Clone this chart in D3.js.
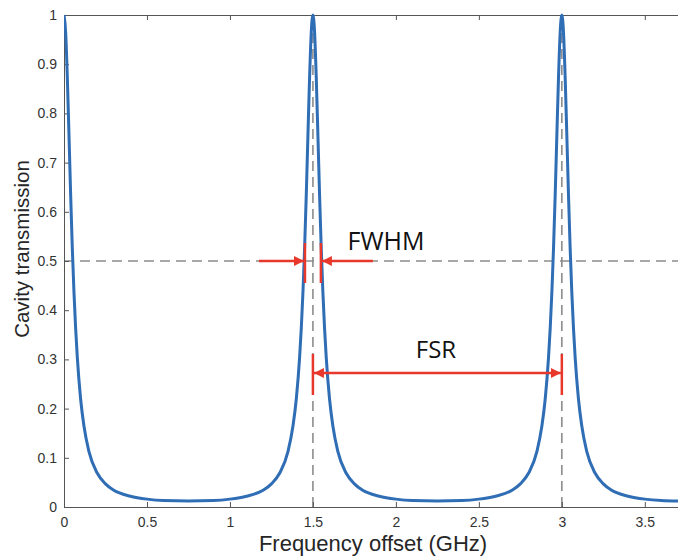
<!DOCTYPE html>
<html>
<head>
<meta charset="utf-8">
<script src="https://cdn.jsdelivr.net/npm/d3@7"></script>
<style>
  body { margin: 0; background: #fff; }
  svg { display: block; }
  .axis path, .axis line { stroke: #555; }
  .axis text { fill: #333; font-family: "Liberation Sans", Arial, sans-serif; font-size: 14px; }
</style>
</head>
<body>
<svg id="chart" width="678" height="558"></svg>
<script>
// cavity transmission (GHz, transmission)
var freq = [0, 0.01, 0.02, 0.03, 0.04, 0.05, 0.06, 0.07, 0.08, 0.10, 0.12, 0.15, 0.20, 0.25, 0.30, 0.40, 0.50, 0.60, 0.75,
            0.90, 1.00, 1.10, 1.20, 1.25, 1.30, 1.35, 1.38, 1.40, 1.42, 1.43, 1.44, 1.45, 1.46, 1.47, 1.48, 1.49,
            1.50, 1.51, 1.52, 1.53, 1.54, 1.55, 1.56, 1.57, 1.58, 1.60, 1.62, 1.65, 1.70, 1.75, 1.80, 1.90, 2.00, 2.10, 2.25,
            2.40, 2.50, 2.60, 2.70, 2.75, 2.80, 2.85, 2.88, 2.90, 2.92, 2.93, 2.94, 2.95, 2.96, 2.97, 2.98, 2.99,
            3.00, 3.01, 3.02, 3.03, 3.04, 3.05, 3.06, 3.07, 3.08, 3.10, 3.12, 3.15, 3.20, 3.25, 3.30, 3.40, 3.50, 3.60, 3.70];
var trans = [1.000, 0.965, 0.874, 0.756, 0.635, 0.527, 0.437, 0.364, 0.305, 0.220, 0.165, 0.113, 0.069, 0.047, 0.034, 0.022, 0.016, 0.013, 0.012,
             0.013, 0.016, 0.022, 0.034, 0.047, 0.069, 0.113, 0.165, 0.220, 0.305, 0.364, 0.437, 0.527, 0.635, 0.756, 0.874, 0.965,
             1.000, 0.965, 0.874, 0.756, 0.635, 0.527, 0.437, 0.364, 0.305, 0.220, 0.165, 0.113, 0.069, 0.047, 0.034, 0.022, 0.016, 0.013, 0.012,
             0.013, 0.016, 0.022, 0.034, 0.047, 0.069, 0.113, 0.165, 0.220, 0.305, 0.364, 0.437, 0.527, 0.635, 0.756, 0.874, 0.965,
             1.000, 0.965, 0.874, 0.756, 0.635, 0.527, 0.437, 0.364, 0.305, 0.220, 0.165, 0.113, 0.069, 0.047, 0.034, 0.022, 0.016, 0.013, 0.012];

var xTicks = [0, 0.5, 1, 1.5, 2, 2.5, 3, 3.5];
var yTicks = [0, 0.1, 0.2, 0.3, 0.4, 0.5, 0.6, 0.7, 0.8, 0.9, 1];

// guides and annotations
var halfMax = 0.5;
var peaks = [1.5, 3.0];
var fwhmEdges = [1.452, 1.548];
var fsrEdges = [1.5, 3.0];

var svg = d3.select("svg#chart");

var x = d3.scaleLinear().domain([0, 3.7]).range([64, 678]);
var y = d3.scaleLinear().domain([0, 1]).range([507, 15]);

var red = "#e8372b";

svg.append("defs").append("clipPath").attr("id", "clip")
  .append("rect").attr("x", 64).attr("y", 13).attr("width", 614).attr("height", 496);

//dashed guides
svg.append("line")
  .attr("x1", x(0)).attr("x2", x(3.7))
  .attr("y1", y(halfMax)).attr("y2", y(halfMax))
  .attr("stroke", "#8c8c8c").attr("stroke-width", 1.6).attr("stroke-dasharray", "10,6");

svg.selectAll("line.vguide")
  .data(peaks)
  .enter().append("line")
  .attr("class", "vguide")
  .attr("x1", function(d) { return x(d); }).attr("x2", function(d) { return x(d); })
  .attr("y1", y(0)).attr("y2", y(1))
  .attr("stroke", "#8c8c8c").attr("stroke-width", 1.6).attr("stroke-dasharray", "10,6");

//axes
var xAxis = d3.axisBottom(x).tickValues(xTicks).tickSizeInner(-5).tickSizeOuter(0).tickPadding(10)
  .tickFormat(d3.format("~g"));
var yAxis = d3.axisLeft(y).tickValues(yTicks).tickSizeInner(-5).tickSizeOuter(0).tickPadding(7)
  .tickFormat(d3.format("~g"));
var xTop = d3.axisTop(x).tickValues(xTicks).tickSizeInner(-5).tickSizeOuter(0).tickFormat("");

svg.append("g").attr("class", "axis").attr("transform", "translate(0," + y(0) + ")").call(xAxis);
svg.append("g").attr("class", "axis").attr("transform", "translate(" + x(0) + ",0)").call(yAxis);
svg.append("g").attr("class", "axis").attr("transform", "translate(0," + y(1) + ")").call(xTop);

//curve
var pts = freq.map(function(f, i) { return [f, trans[i]]; });
var line = d3.line()
  .x(function(d) { return x(d[0]); })
  .y(function(d) { return y(d[1]); })
  .curve(d3.curveMonotoneX);

svg.append("path")
  .datum(pts)
  .attr("clip-path", "url(#clip)")
  .attr("d", line)
  .attr("fill", "none")
  .attr("stroke", "#2f6db5")
  .attr("stroke-width", 3)
  .attr("stroke-linejoin", "round");

//arrowheads
var defs = svg.select("defs");
defs.append("marker")
  .attr("id", "arrow")
  .attr("viewBox", "0 0 10 10")
  .attr("refX", 10).attr("refY", 5)
  .attr("markerWidth", 10).attr("markerHeight", 10)
  .attr("markerUnits", "userSpaceOnUse")
  .attr("orient", "auto-start-reverse")
  .append("path").attr("d", "M0,0 L10,5 L0,10 Z").attr("fill", red);

//FWHM markers
var ann = svg.append("g");
fwhmEdges.forEach(function(e) {
  ann.append("line")
    .attr("x1", x(e)).attr("x2", x(e))
    .attr("y1", y(0.5) - 18).attr("y2", y(0.5) + 22)
    .attr("stroke", red).attr("stroke-width", 2.5);
});
ann.append("line")
  .attr("x1", x(fwhmEdges[0]) - 46).attr("x2", x(fwhmEdges[0]) - 1)
  .attr("y1", y(0.5)).attr("y2", y(0.5))
  .attr("stroke", red).attr("stroke-width", 2.5).attr("marker-end", "url(#arrow)");
ann.append("line")
  .attr("x1", x(fwhmEdges[1]) + 52).attr("x2", x(fwhmEdges[1]) + 1)
  .attr("y1", y(0.5)).attr("y2", y(0.5))
  .attr("stroke", red).attr("stroke-width", 2.5).attr("marker-end", "url(#arrow)");
ann.append("text")
  .attr("x", 386).attr("y", 250)
  .attr("text-anchor", "middle")
  .style("font-family", "'Open Sans', sans-serif").style("font-size", "25px").attr("fill", "#111")
  .text("FWHM");

//FSR markers
fsrEdges.forEach(function(e) {
  ann.append("line")
    .attr("x1", x(e)).attr("x2", x(e))
    .attr("y1", 354).attr("y2", 395)
    .attr("stroke", red).attr("stroke-width", 2.5);
});
ann.append("line")
  .attr("x1", x(fsrEdges[0]) + 1).attr("x2", x(fsrEdges[1]) - 1)
  .attr("y1", 373).attr("y2", 373)
  .attr("stroke", red).attr("stroke-width", 2.5)
  .attr("marker-start", "url(#arrow)").attr("marker-end", "url(#arrow)");
ann.append("text")
  .attr("x", 436).attr("y", 358)
  .attr("text-anchor", "middle")
  .style("font-family", "'Open Sans', sans-serif").style("font-size", "24px").attr("fill", "#111")
  .text("FSR");

//axis labels
svg.append("text")
  .attr("x", 373).attr("y", 551)
  .attr("text-anchor", "middle")
  .style("font-family", "'Liberation Sans', Arial, sans-serif").style("font-size", "22px").attr("fill", "#262626")
  .text("Frequency offset (GHz)");

svg.append("text")
  .attr("transform", "translate(29,249) rotate(-90)")
  .attr("text-anchor", "middle")
  .style("font-family", "'Liberation Sans', Arial, sans-serif").style("font-size", "20.5px").attr("fill", "#262626")
  .text("Cavity transmission");
</script>
</body>
</html>
